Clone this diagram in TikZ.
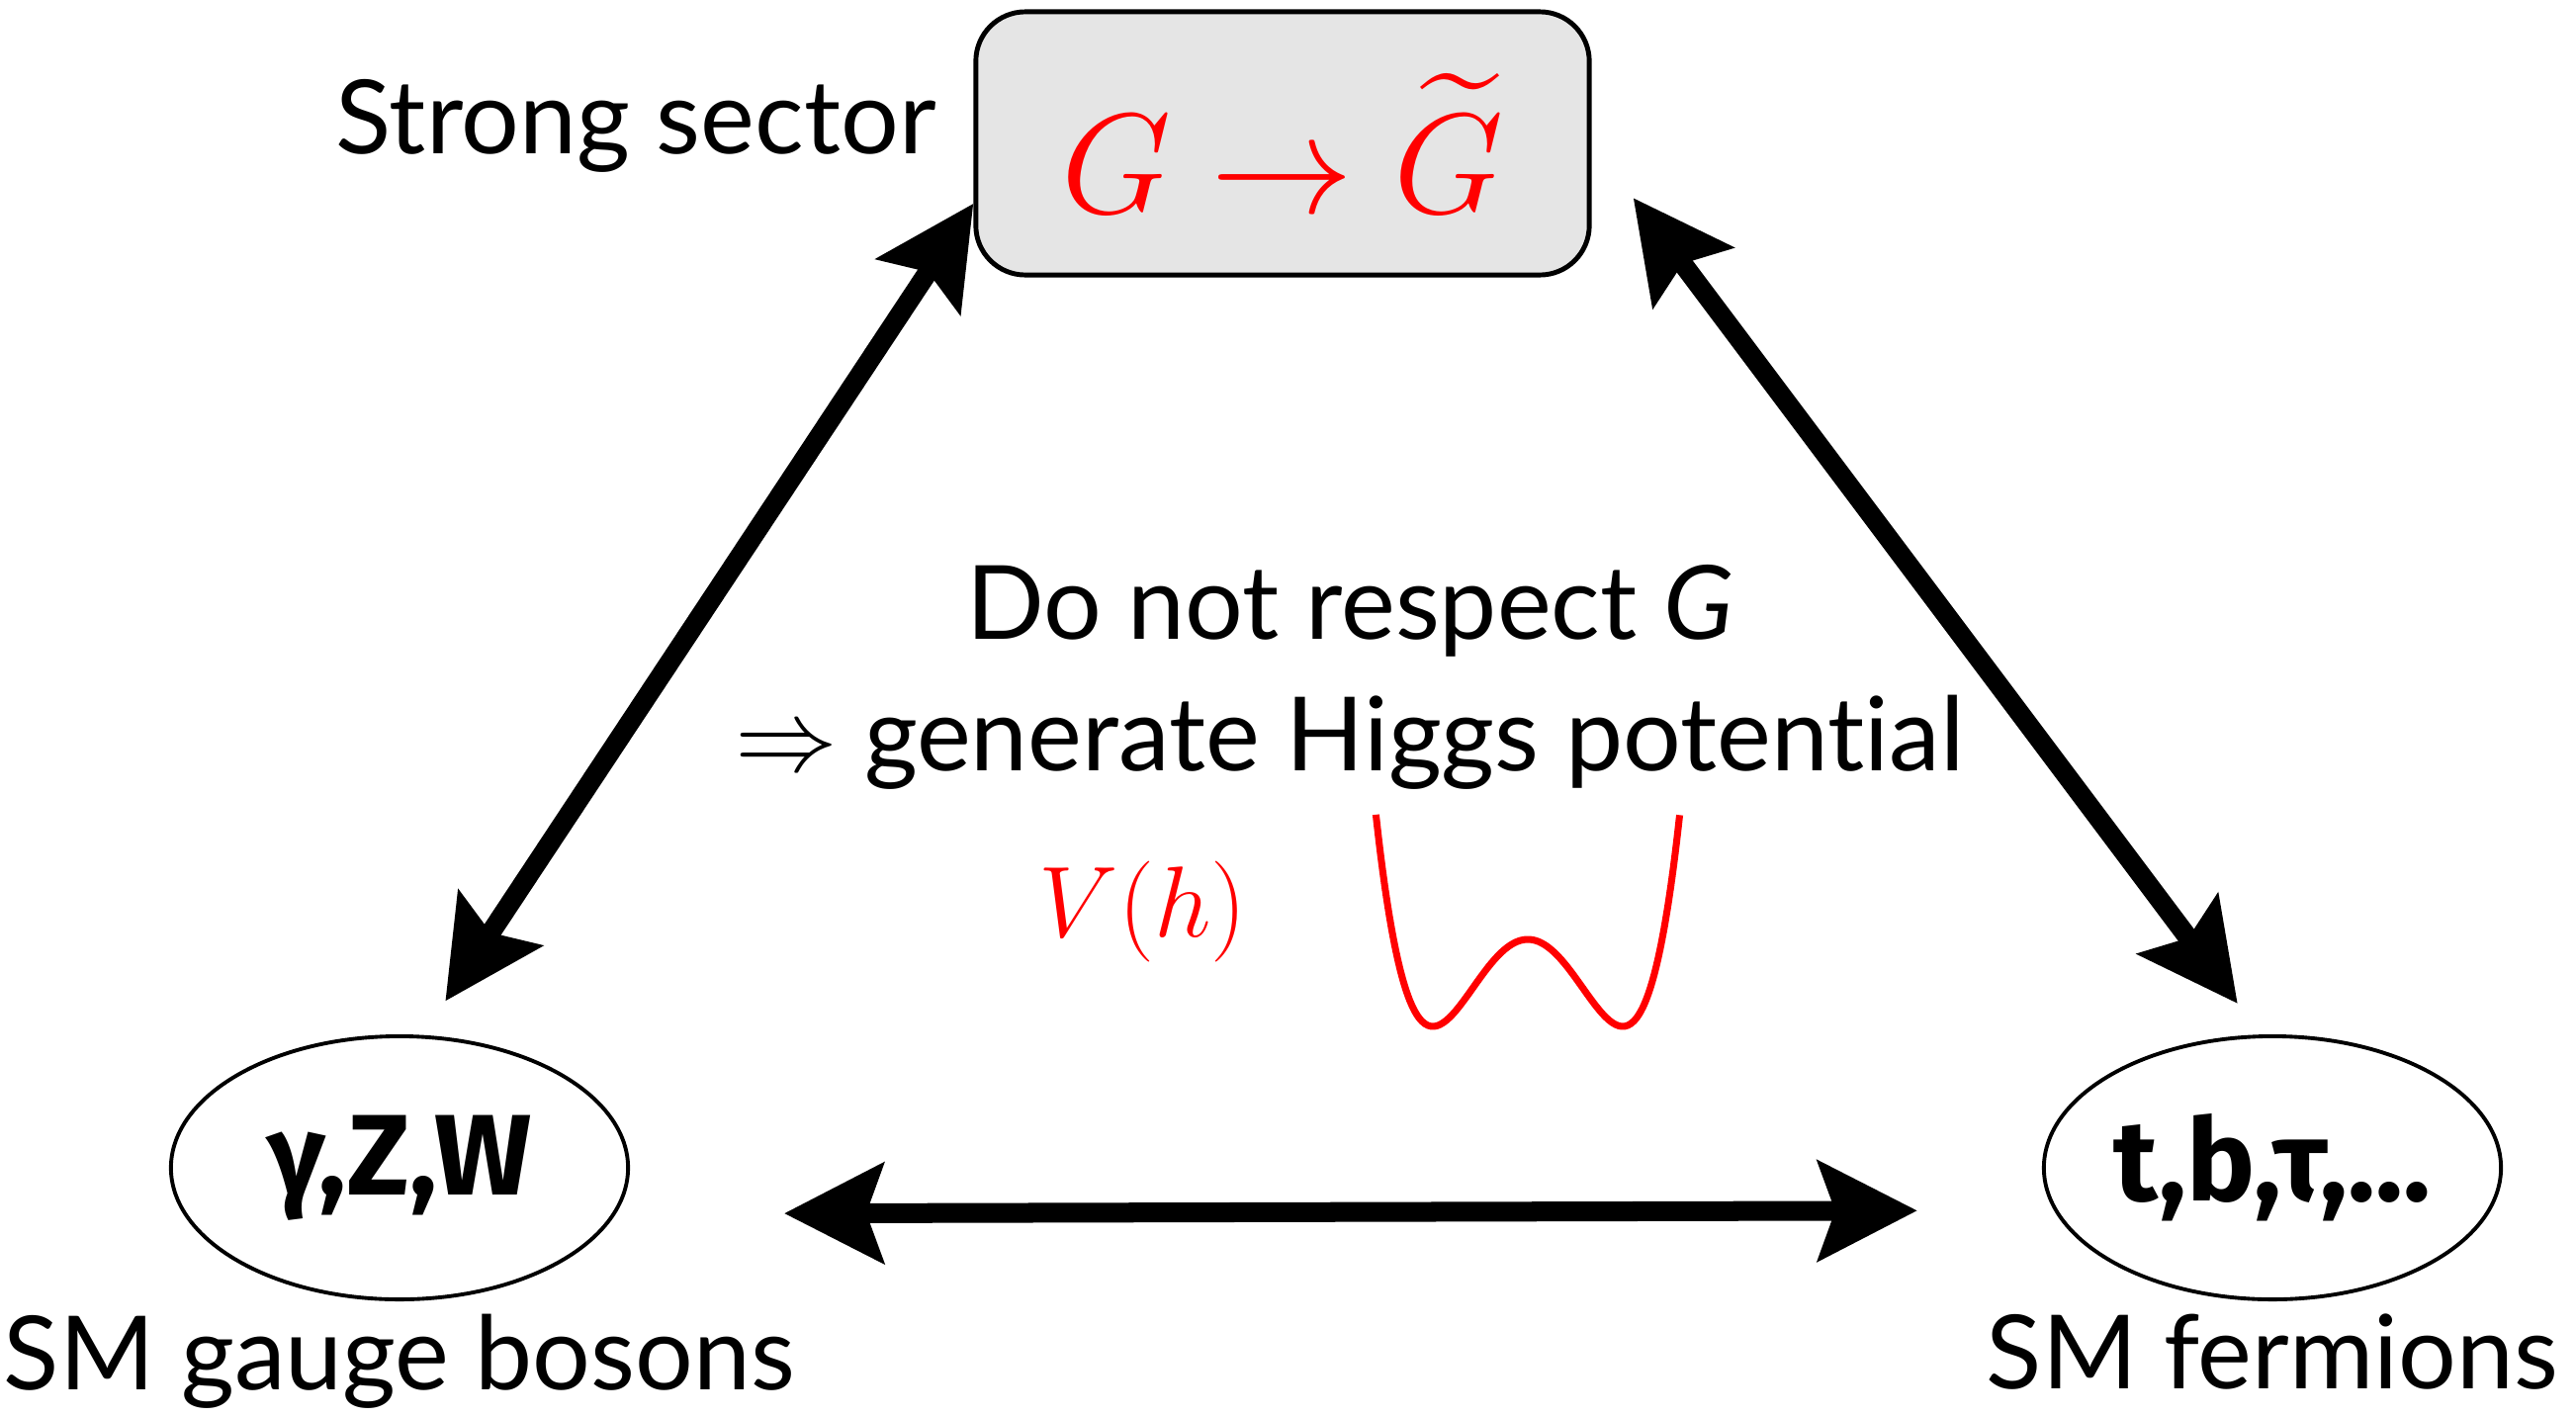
\RequirePackage{fix-cm}
\documentclass[tikz,border=0pt]{standalone}
\usepackage{amsmath,amssymb}
\usepackage[no-math]{fontspec}
\setmainfont{Lato}[Ligatures=NoCommon]
\newfontfamily\partfont{Fira Sans}
\usetikzlibrary{arrows.meta,positioning,shapes.geometric}

\tikzset{
  labeltext/.style={font=\fontsize{29.5}{37.7}\selectfont, inner sep=0pt},
  particle/.style={ellipse, draw, line width=1.1pt, minimum width=4.62cm,
    minimum height=2.66cm, inner sep=0pt, inner xsep=-1cm, font=\partfont\bfseries\fontsize{33}{36}\selectfont},
  strongbox/.style={draw, line width=1.4pt, rounded corners=0.5cm, fill=gray!20,
    minimum width=6.2cm, minimum height=2.66cm, text=red, font=\fontsize{41}{45}\selectfont},
  twoway/.style={{Stealth[length=1cm,width=1cm,inset=0.17cm]}-{Stealth[length=1cm,width=1cm,inset=0.17cm]},
    line width=0.2cm},
}

\begin{document}
\begin{tikzpicture}[x=0.01cm, y=-0.01cm]
  \useasboundingbox (0,0) rectangle (2605,1433);

  \node[strongbox] (box) at (1297,145) {$G\to\widetilde{G}$};
  \node[labeltext, left=0.37cm of box, yshift=0.18cm] (strong) {Strong sector};

  \node[particle] (bos) at (404,1181) {γ,Z,W};
  \node[particle] (ferm) at (2298,1181) {t,b,τ,...};
  \node[labeltext, below=0.12cm of bos] (boslabel) {SM gauge bosons};
  \node[labeltext, below=0.12cm of ferm] (fermlabel) {SM fermions};

  \node[labeltext, align=center] (note) at (1365,685)
    {Do not respect \textit{G}\\ $\Rightarrow$ generate Higgs potential};

  \node[text=red, font=\fontsize{29}{32}\selectfont] (pot) at (1156,922) {$V(h)$};
  \draw[red, line width=2pt, domain=-1.6:1.6, samples=100, smooth]
    plot ({1545+96*\x}, {1038-88*((\x*\x-1)*(\x*\x-1))});

  \draw[twoway, shorten >=0.41cm] (box.191) -- (bos.80);
  \draw[twoway, shorten >=0.39cm] ([xshift=0.42cm]box.-10) -- (ferm.95);
  \draw[twoway, shorten <=1.7cm, shorten >=1.38cm] (bos.-12) -- (ferm.191);
\end{tikzpicture}
\end{document}
